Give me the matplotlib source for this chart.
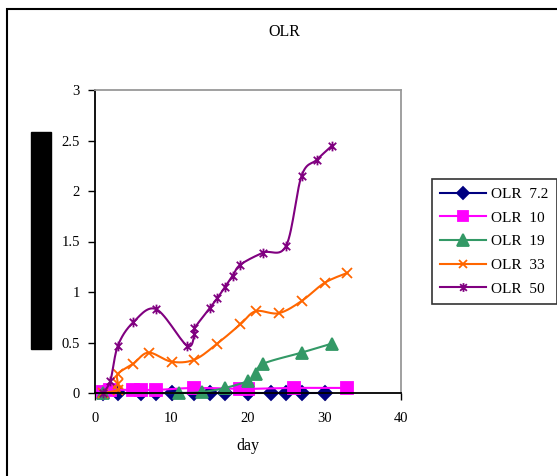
import numpy as np
import matplotlib
matplotlib.use('Agg')
import matplotlib.pyplot as plt
from matplotlib.path import Path
from matplotlib.patches import Rectangle
from matplotlib.lines import Line2D

plt.rcParams['font.family'] = ['Liberation Serif', 'DejaVu Serif']

# data
day_72 = [1, 3, 6, 8, 10, 13, 15, 17, 20, 23, 25, 27, 30]
olr_72 = [0, 0, 0, 0, 0, 0, 0, 0, 0, 0, 0, 0, 0]

day_10 = [1, 2, 5, 6, 8, 13, 19, 20, 26, 33]
olr_10 = [0.01, 0.03, 0.03, 0.03, 0.03, 0.05, 0.04, 0.04, 0.05, 0.05]

day_19 = [1, 11, 14, 17, 20, 21, 22, 27, 31]
olr_19 = [0.0, 0.0, 0.01, 0.05, 0.12, 0.19, 0.29, 0.40, 0.49]

day_33 = [1, 3, 3, 3, 5, 7, 10, 13, 16, 19, 21, 24, 27, 30, 33]
olr_33 = [0.0, 0.03, 0.09, 0.19, 0.29, 0.40, 0.31, 0.33, 0.49, 0.68, 0.81, 0.79, 0.91, 1.09, 1.19]

day_50 = [1, 2, 3, 5, 8, 12, 13, 13, 15, 16, 17, 18, 19, 22, 25, 27, 29, 31]
olr_50 = [0.0, 0.12, 0.47, 0.70, 0.83, 0.47, 0.58, 0.64, 0.84, 0.94, 1.05, 1.16, 1.27,
          1.39, 1.46, 2.15, 2.31, 2.45]

labels = ['OLR  7.2', 'OLR  10', 'OLR  19', 'OLR  33', 'OLR  50']


def smooth(x, y, n=16, t=0.5):
    # excel-like smoothed line (cardinal spline through the points)
    x = np.asarray(x, float)
    y = np.asarray(y, float)
    px = np.concatenate([[x[0]], x, [x[-1]]])
    py = np.concatenate([[y[0]], y, [y[-1]]])
    xs, ys = [x[0]], [y[0]]
    s = np.linspace(0, 1, n)[1:]
    for i in range(1, len(px) - 2):
        p0, p1, p2, p3 = [np.array([px[k], py[k]]) for k in (i - 1, i, i + 1, i + 2)]
        c1 = p1 + (p2 - p0) * t / 3
        c2 = p2 - (p3 - p1) * t / 3
        b = ((1 - s) ** 3)[:, None] * p1 + (3 * (1 - s) ** 2 * s)[:, None] * c1 \
            + (3 * (1 - s) * s ** 2)[:, None] * c2 + (s ** 3)[:, None] * p2
        xs.extend(b[:, 0])
        ys.extend(b[:, 1])
    return xs, ys


# x with a vertical bar, like the excel star marker
star = Path([(-1, -1), (1, 1), (-1, 1), (1, -1), (0, -1.3), (0, 1.3)],
            [Path.MOVETO, Path.LINETO, Path.MOVETO, Path.LINETO, Path.MOVETO, Path.LINETO])

series = [
    (day_72, olr_72, '#000080', 'D', 7),
    (day_10, olr_10, '#FF00FF', 's', 8),
    (day_19, olr_19, '#339966', '^', 9),
    (day_33, olr_33, '#FF6600', 'x', 7),
    (day_50, olr_50, '#800080', star, 7),
]

fig = plt.figure(figsize=(5.57, 4.76), dpi=100)
ax = fig.add_axes([95 / 557, 83 / 476, 306 / 557, 303 / 476])

handles = []
for (d, v, c, m, ms), lab in zip(series, labels):
    sx, sy = smooth(d, v)
    ax.plot(sx, sy, color=c, lw=1.5, clip_on=False)
    ax.plot(d, v, ls='none', marker=m, ms=ms, color=c, mec=c, mew=1.3, clip_on=False)
    handles.append(Line2D([], [], color=c, lw=1.5, marker=m, ms=ms * 0.9, mec=c, mew=1.3))

ax.set_xlim(0, 40)
ax.set_ylim(0, 3)
ax.set_xticks([0, 10, 20, 30, 40])
ax.set_yticks([0, 0.5, 1, 1.5, 2, 2.5, 3])
ax.set_yticklabels(['0', '0.5', '1', '1.5', '2', '2.5', '3'])
ax.tick_params(direction='out', length=5, width=1, labelsize=10.5)
ax.tick_params(axis='x', pad=9)
ax.tick_params(axis='y', pad=6)
for side in ['left', 'bottom']:
    ax.spines[side].set_linewidth(1.3)
for side in ['top', 'right']:
    ax.spines[side].set_color('#999999')
    ax.spines[side].set_linewidth(1.3)

ax.set_xlabel('day', fontsize=11.5, labelpad=9)
fig.text(284 / 557, 1 - 32 / 476, 'OLR', ha='center', va='center', fontsize=11.5)

leg = fig.legend(handles, labels, loc='upper left', bbox_to_anchor=(432 / 557, 1 - 179 / 476),
                 frameon=True, fancybox=False, edgecolor='black', fontsize=11,
                 handlelength=3.0, handletextpad=0.3, labelspacing=0.65, borderpad=0.55,
                 borderaxespad=0)
leg.get_frame().set_linewidth(1.2)

# black block where the y label sits
fig.patches.append(Rectangle((31 / 557, 1 - 349 / 476), 20 / 557, 217 / 476,
                             transform=fig.transFigure, color='black'))
# outer chart frame
fig.patches.append(Rectangle((7 / 557, -0.1), 1.2, 1 - 9 / 476 + 0.1, transform=fig.transFigure,
                             fill=False, edgecolor='black', lw=1.5))

fig.savefig('out.png', dpi=100)
